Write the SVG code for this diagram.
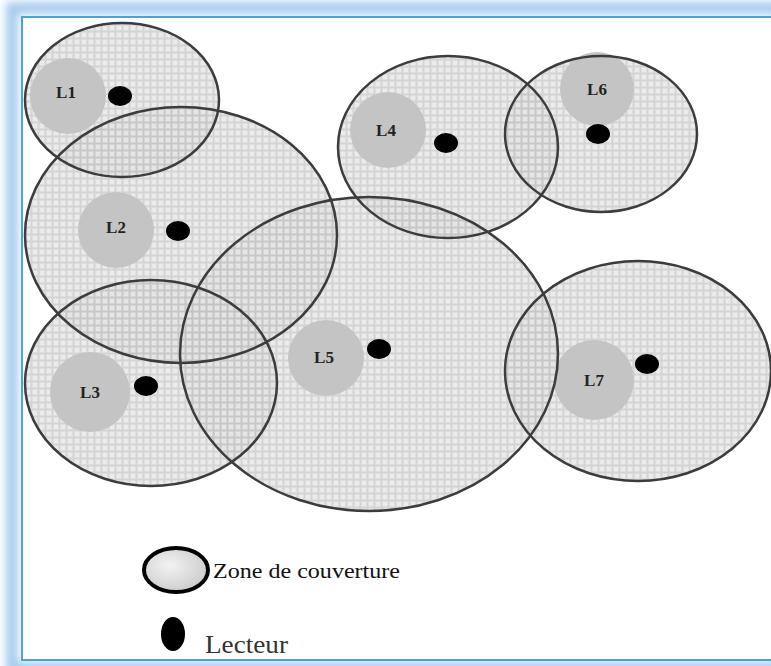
<svg xmlns="http://www.w3.org/2000/svg" width="771" height="666" viewBox="0 0 771 666">
<defs>
<pattern id="grid" width="7" height="7" patternUnits="userSpaceOnUse">
<rect width="7" height="7" fill="#e2e2e2"/>
<path d="M0 3.5H7M3.5 0V7" stroke="#c2c2c2" stroke-width="2"/>
</pattern>
<radialGradient id="leg" cx="0.4" cy="0.4" r="0.7">
<stop offset="0" stop-color="#f2f2f2"/><stop offset="1" stop-color="#c8c8c8"/>
</radialGradient>
<filter id="glow" x="-5%" y="-5%" width="110%" height="110%"><feGaussianBlur stdDeviation="4"/></filter>
</defs>
<style>
.zf{fill:url(#grid);fill-opacity:0.7;stroke:none}
.zs{fill:none;stroke:#3c3c3c;stroke-width:2.5}
.blob{fill:#c4c4c4}
.dot{fill:#000}
.lbl{font-family:"Liberation Serif",serif;font-weight:bold;font-size:17px;fill:#222;text-anchor:middle}
</style>
<rect width="771" height="666" fill="#fff"/>
<rect x="12" y="8" width="770" height="660" fill="none" stroke="#a6cbef" stroke-width="12" filter="url(#glow)"/>
<rect x="22" y="17" width="760" height="643" fill="#fff" stroke="#4aa3d3" stroke-width="2"/>
<g id="zone-fills">
<ellipse class="zf" cx="122" cy="100" rx="97" ry="77"/>
<ellipse class="zf" cx="181" cy="235" rx="156" ry="128"/>
<ellipse class="zf" cx="151" cy="383" rx="126" ry="103"/>
<ellipse class="zf" cx="448" cy="147" rx="110" ry="91"/>
<ellipse class="zf" cx="369" cy="354" rx="189" ry="157"/>
<ellipse class="zf" cx="601" cy="134" rx="96" ry="78"/>
<ellipse class="zf" cx="638" cy="371" rx="133" ry="110"/>
</g>
<g id="L1"><circle class="blob" cx="68" cy="96" r="38"/><text class="lbl" x="66" y="98">L1</text><ellipse class="dot" cx="120" cy="96" rx="12" ry="10"/></g>
<g id="L2"><circle class="blob" cx="116" cy="230" r="38"/><text class="lbl" x="116" y="233">L2</text><ellipse class="dot" cx="178" cy="231" rx="12" ry="10"/></g>
<g id="L3"><circle class="blob" cx="90" cy="392" r="40"/><text class="lbl" x="90" y="398">L3</text><ellipse class="dot" cx="146" cy="386" rx="12" ry="10"/></g>
<g id="L4"><circle class="blob" cx="388" cy="130" r="38"/><text class="lbl" x="386" y="136">L4</text><ellipse class="dot" cx="446" cy="143" rx="12" ry="10"/></g>
<g id="L5"><circle class="blob" cx="326" cy="358" r="38"/><text class="lbl" x="324" y="363">L5</text><ellipse class="dot" cx="379" cy="349" rx="12" ry="10"/></g>
<g id="L6"><circle class="blob" cx="597" cy="89" r="37"/><text class="lbl" x="597" y="95">L6</text><ellipse class="dot" cx="598" cy="134" rx="12" ry="10"/></g>
<g id="L7"><circle class="blob" cx="594" cy="380" r="40"/><text class="lbl" x="594" y="386">L7</text><ellipse class="dot" cx="647" cy="364" rx="12" ry="10"/></g>
<g id="zone-outlines">
<ellipse class="zs" cx="122" cy="100" rx="97" ry="77"/>
<ellipse class="zs" cx="181" cy="235" rx="156" ry="128"/>
<ellipse class="zs" cx="151" cy="383" rx="126" ry="103"/>
<ellipse class="zs" cx="448" cy="147" rx="110" ry="91"/>
<ellipse class="zs" cx="369" cy="354" rx="189" ry="157"/>
<ellipse class="zs" cx="601" cy="134" rx="96" ry="78"/>
<ellipse class="zs" cx="638" cy="371" rx="133" ry="110"/>
</g>
<g id="legend">
<ellipse cx="176" cy="570" rx="32" ry="22" fill="url(#leg)" stroke="#000" stroke-width="4"/>
<text x="213" y="578" font-family="Liberation Serif,serif" font-size="21" fill="#111" textLength="187" lengthAdjust="spacingAndGlyphs">Zone de couverture</text>
<ellipse cx="173" cy="634" rx="12" ry="17" fill="#000"/>
<text x="205" y="653" font-family="Liberation Serif,serif" font-size="26" fill="#333" textLength="83" lengthAdjust="spacingAndGlyphs">Lecteur</text>
</g>
</svg>
